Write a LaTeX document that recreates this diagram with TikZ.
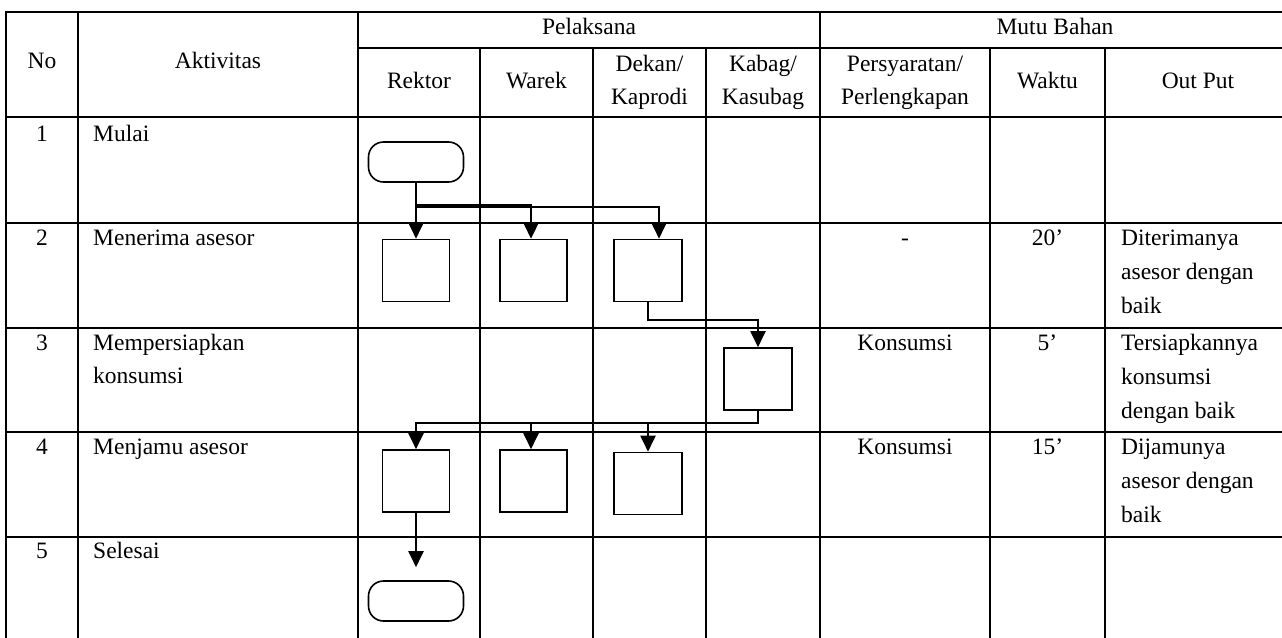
\documentclass[tikz,border=0pt]{standalone}
\usepackage{fontspec}
\setmainfont{Liberation Serif}
\usetikzlibrary{arrows.meta}
\begin{document}
\begin{tikzpicture}[x=1pt,y=-1pt,
  grid/.style={line width=2.2pt,line cap=rect},
  txt/.style={anchor=base,inner sep=0pt,font=\fontsize{23.5}{33}\selectfont},
  ltxt/.style={txt,anchor=base west},
  proc/.style={draw,line width=1.6pt,minimum width=67pt,minimum height=62pt,inner sep=0pt},
  term/.style={draw,line width=1.6pt,rounded corners=15pt,minimum width=95pt,minimum height=40pt,inner sep=0pt},
  conn/.style={line width=2pt,-{Triangle[length=16pt,width=15pt]}}]
\useasboundingbox (0,0) rectangle (1282,637);
\fill[white] (0,0) rectangle (1282,637);
% table grid
\draw[grid] (6,12) -- (1292,12);
\draw[grid] (358,48) -- (1292,48);
\foreach \y in {117,223,328,432,537} \draw[grid] (6,\y) -- (1292,\y);
\foreach \x in {6,78,358,820,1290} \draw[grid] (\x,12) -- (\x,640);
\foreach \x in {480,593,706,990,1105} \draw[grid] (\x,48) -- (\x,640);
% header
\node[txt] (hno) at (42,68) {No};
\node[txt] (hakt) at (218,68) {Aktivitas};
\node[txt] (hpel) at (589,34) {Pelaksana};
\node[txt] (hmutu) at (1055,34) {Mutu Bahan};
\node[txt] (hrek) at (419,88) {Rektor};
\node[txt] (hwar) at (536.5,88) {Warek};
\node[txt] (hdek) at (649.5,71) {Dekan/};
\node[txt] (hdek2) at (649.5,104) {Kaprodi};
\node[txt] (hkab) at (763,71) {Kabag/};
\node[txt] (hkab2) at (763,104) {Kasubag};
\node[txt] (hper) at (905,71) {Persyaratan/};
\node[txt] (hper2) at (905,104) {Perlengkapan};
\node[txt] (hwak) at (1047.5,88) {Waktu};
\node[txt] (hout) at (1198,88) {Out Put};
% row numbers and activities
\node[txt] (n1) at (42,141) {1};
\node[txt] (n2) at (42,245) {2};
\node[txt] (n3) at (42,350) {3};
\node[txt] (n4) at (42,454) {4};
\node[txt] (n5) at (42,558) {5};
\node[ltxt] (a1) at (93,141) {Mulai};
\node[ltxt] (a2) at (93,245) {Menerima asesor};
\node[ltxt] (a3) at (93,350) {Mempersiapkan};
\node[ltxt] (a3b) at (93,383) {konsumsi};
\node[ltxt] (a4) at (93,454) {Menjamu asesor};
\node[ltxt] (a5) at (93,558) {Selesai};
% quality columns
\node[txt] (p2) at (905,245) {-};
\node[txt] (p3) at (905,350) {Konsumsi};
\node[txt] (p4) at (905,454) {Konsumsi};
\node[txt] (w2t) at (1047.5,245) {20’};
\node[txt] (w3t) at (1047.5,350) {5’};
\node[txt] (w4t) at (1047.5,454) {15’};
\node[ltxt] (o2a) at (1121,245) {Diterimanya};
\node[ltxt] (o2b) at (1121,279) {asesor dengan};
\node[ltxt] (o2c) at (1121,313) {baik};
\node[ltxt] (o3a) at (1121,350) {Tersiapkannya};
\node[ltxt] (o3b) at (1121,384) {konsumsi};
\node[ltxt] (o3c) at (1121,418) {dengan baik};
\node[ltxt] (o4a) at (1121,454) {Dijamunya};
\node[ltxt] (o4b) at (1121,488) {asesor dengan};
\node[ltxt] (o4c) at (1121,522) {baik};
% flow shapes
\node[term] (t1) at (416,162) {};
\node[proc] (r2) at (416,270.5) {};
\node[proc] (w2) at (533.5,270.5) {};
\node[proc,minimum width=68pt] (d2) at (648,270.5) {};
\node[proc,minimum width=68pt] (k3) at (758,379) {};
\node[proc] (r4) at (416,481) {};
\node[proc] (w4) at (533.5,481) {};
\node[proc,minimum width=68pt] (d4) at (648,483.5) {};
\node[term] (t5) at (416,601) {};
% connectors
\draw[conn] (t1.south) -- (r2.north);
\draw[conn,line width=2.6pt] (t1.south) -- ++(0,22) -| ([xshift=-2.5pt]w2.north);
\draw[conn] (t1.south) -- ++(0,24) -| ([xshift=11pt]d2.north);
\draw[conn] (d2.south) -- ++(0,18) -| (k3.north);
\draw[conn] (k3.south) -- ++(0,12) -| (r4.north);
\draw[conn] (k3.south) -- ++(0,12) -| ([xshift=-2.5pt]w4.north);
\draw[conn] (k3.south) -- ++(0,12) -| (d4.north);
\draw[conn,shorten >=13pt] (r4.south) -- (t5.north);
\end{tikzpicture}
\end{document}
